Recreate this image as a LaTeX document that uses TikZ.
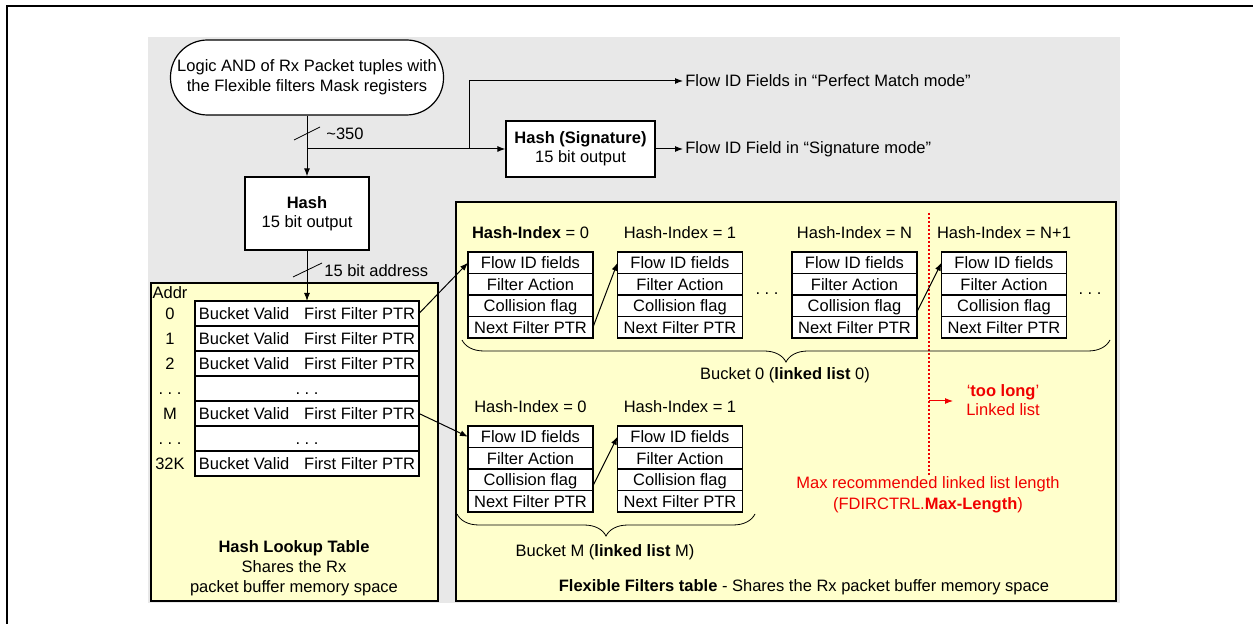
\documentclass[tikz,border=0pt]{standalone}
\usepackage{fontspec}
\setmainfont{Liberation Sans}
\usetikzlibrary{arrows.meta,positioning,decorations.pathreplacing,calc}

\definecolor{bggray}{RGB}{232,232,232}
\definecolor{memyellow}{RGB}{255,255,204}
\definecolor{limitred}{RGB}{240,0,0}

\newcommand{\fs}{\fontsize{8.25pt}{10pt}\selectfont}
\newcommand{\bvfp}{Bucket Valid\hspace{0.9em}First Filter PTR}
\newcommand{\gapdots}{\vphantom{Bd}.\ .\ .}

\tikzset{
	every node/.style={font=\fs, inner sep=1pt},
	ptrarrow/.style={-{Latex[length=4pt,width=3pt]}, line width=0.5pt},
	field/.style={draw, fill=white, line width=0.6pt, outer sep=0pt, inner sep=0pt, minimum width=62.5pt, minimum height=10.75pt, text height=7.4pt, text depth=1.5pt},
	slot/.style={draw, fill=white, line width=0.6pt, outer sep=0pt, inner sep=0pt, minimum width=112pt, minimum height=12.5pt, text height=7.4pt, text depth=1.5pt},
	hashbox/.style={draw, fill=white, line width=0.6pt, align=center, font={\fontsize{8.25pt}{9.5pt}\selectfont}},
	membox/.style={draw, fill=memyellow, line width=0.6pt},
}

\begin{document}
\begin{tikzpicture}[x=0.5pt,y=-0.5pt]

\useasboundingbox (0,0) rectangle (1253,624);
\draw[line width=1pt] (1253,6) -- (7,6) -- (7,624);

\fill[bggray] (148,37) rectangle (1120,603);
\draw[membox] (151,283) rectangle (438,601);
\draw[membox] (456,202) rectangle (1116,601);

\begin{scope}
	\coordinate (split) at (307,149);
	\coordinate (up) at ([xshift=81pt]split);
	\coordinate (limtop) at (929,213);
	\coordinate (limbot) at (929,477);
	\coordinate (limarr) at (929,401);
	\coordinate (limtip) at ([xshift=12pt]limarr);
\end{scope}

% hashing of the packet tuples
\node[draw, fill=white, line width=0.6pt, rounded corners=18.5pt, minimum width=136.5pt, minimum height=37.5pt, align=center] (tuple) at (307,77.5)
	{Logic AND of Rx Packet tuples with\\the Flexible filters Mask registers};
\node[hashbox, minimum width=62pt, minimum height=36.5pt] (hash) at (307,213.5) {\textbf{Hash}\\15 bit output};
\node[hashbox, minimum width=74.5pt, minimum height=28pt] (sig) at (580.5,149) {\textbf{Hash (Signature)}\\15 bit output};
\node[anchor=west] (pm) at (683,81) {Flow ID Fields in “Perfect Match mode”};
\node[anchor=west] (sm) at (683,149) {Flow ID Field in “Signature mode”};

\draw[ptrarrow] (tuple) -- (hash);
\draw[ptrarrow] (split) -- (sig);
\draw[ptrarrow] (up) |- (pm);
\draw[ptrarrow] (sig) -- (sm);
\draw (294,140) -- (320,127);
\node[anchor=west] (w350) at (324,134) {\textasciitilde350};

% hash lookup table
\node (addr) at (170,293) {Addr};
\foreach \nm/\k/\ad/\txt in {t0/0/0/\bvfp, t1/1/1/\bvfp, t2/2/2/\bvfp, td/3/\gapdots/\gapdots, tm/4/M/\bvfp, te/5/\gapdots/\gapdots, tk/6/32K/\bvfp}
{
	\node[slot] (\nm) at (307,313.5+25*\k) {\txt};
	\node[text height=7.4pt, text depth=1.5pt] (a\nm) at (170,313.5+25*\k) {\ad};
}
\draw[ptrarrow] (hash) -- (t0);
\draw (293,277) -- (322,263);
\node[anchor=west] (w15) at (322,271) {15 bit address};
\node[align=center] (hlt) at (294,568) {\textbf{Hash Lookup Table}\\Shares the Rx\\packet buffer memory space};

% flexible filters
\draw[limitred, line width=1.1pt, dash pattern=on 1pt off 1pt] (limtop) -- (limbot);
\foreach \nm/\x/\y in {a/530.5/252, b/680/252, n/854.5/252, m/1004/252, p/530.5/426, q/680/426}
{
	\node[field] (\nm1) at (\x,\y+10.75) {Flow ID fields};
	\node[field, below=0pt of \nm1] (\nm2) {Filter Action};
	\node[field, below=0pt of \nm2] (\nm3) {Collision flag};
	\node[field, below=0pt of \nm3] (\nm4) {Next Filter PTR};
}
\node[above=5.5pt of a1] (ia) {\textbf{Hash-Index} = 0};
\node[above=5.5pt of b1] (ib) {Hash-Index = 1};
\node[above=5.5pt of n1] (in) {Hash-Index = N};
\node[above=5.5pt of m1] (im) {Hash-Index = N+1};
\node[above=5.5pt of p1] (ip) {Hash-Index = 0};
\node[above=5.5pt of q1] (iq) {Hash-Index = 1};
\node (dots0) at (767,289) {\gapdots};
\node (dots1) at (1090,289) {\gapdots};

\draw[ptrarrow] (t0.east) -- (a1.west);
\draw[ptrarrow] (tm.east) -- (p1.west);
\draw[ptrarrow] (a4.east) -- (b1.west);
\draw[ptrarrow] ([yshift=-3pt]n3.east) -- (m1.west);
\draw[ptrarrow] ([yshift=-3pt]p3.east) -- (q1.west);

\draw[decorate, decoration={brace, mirror, amplitude=11pt}] (462,340) -- (1110,340);
\draw[decorate, decoration={brace, mirror, amplitude=11pt}] (457,514) -- (755,514);
\node (bk0) at (785,375) {Bucket 0 (\textbf{linked list} 0)};
\node (bkm) at (605,552) {Bucket M (\textbf{linked list} M)};
\node (fft) at (804,587) {\textbf{Flexible Filters table} - Shares the Rx packet buffer memory space};

% length limit
\draw[ptrarrow, limitred] (limarr) -- (limtip);
\node[limitred, align=center, font={\fontsize{8.25pt}{9.5pt}\selectfont}] (toolong) at (1003,400.5) {‘\textbf{too long}’\\Linked list};
\node[limitred, align=center, font={\fontsize{8.25pt}{10.5pt}\selectfont}] (maxlen) at (928,494.5) {Max recommended linked list length\\(FDIRCTRL.\textbf{Max-Length})};

\end{tikzpicture}
\end{document}
